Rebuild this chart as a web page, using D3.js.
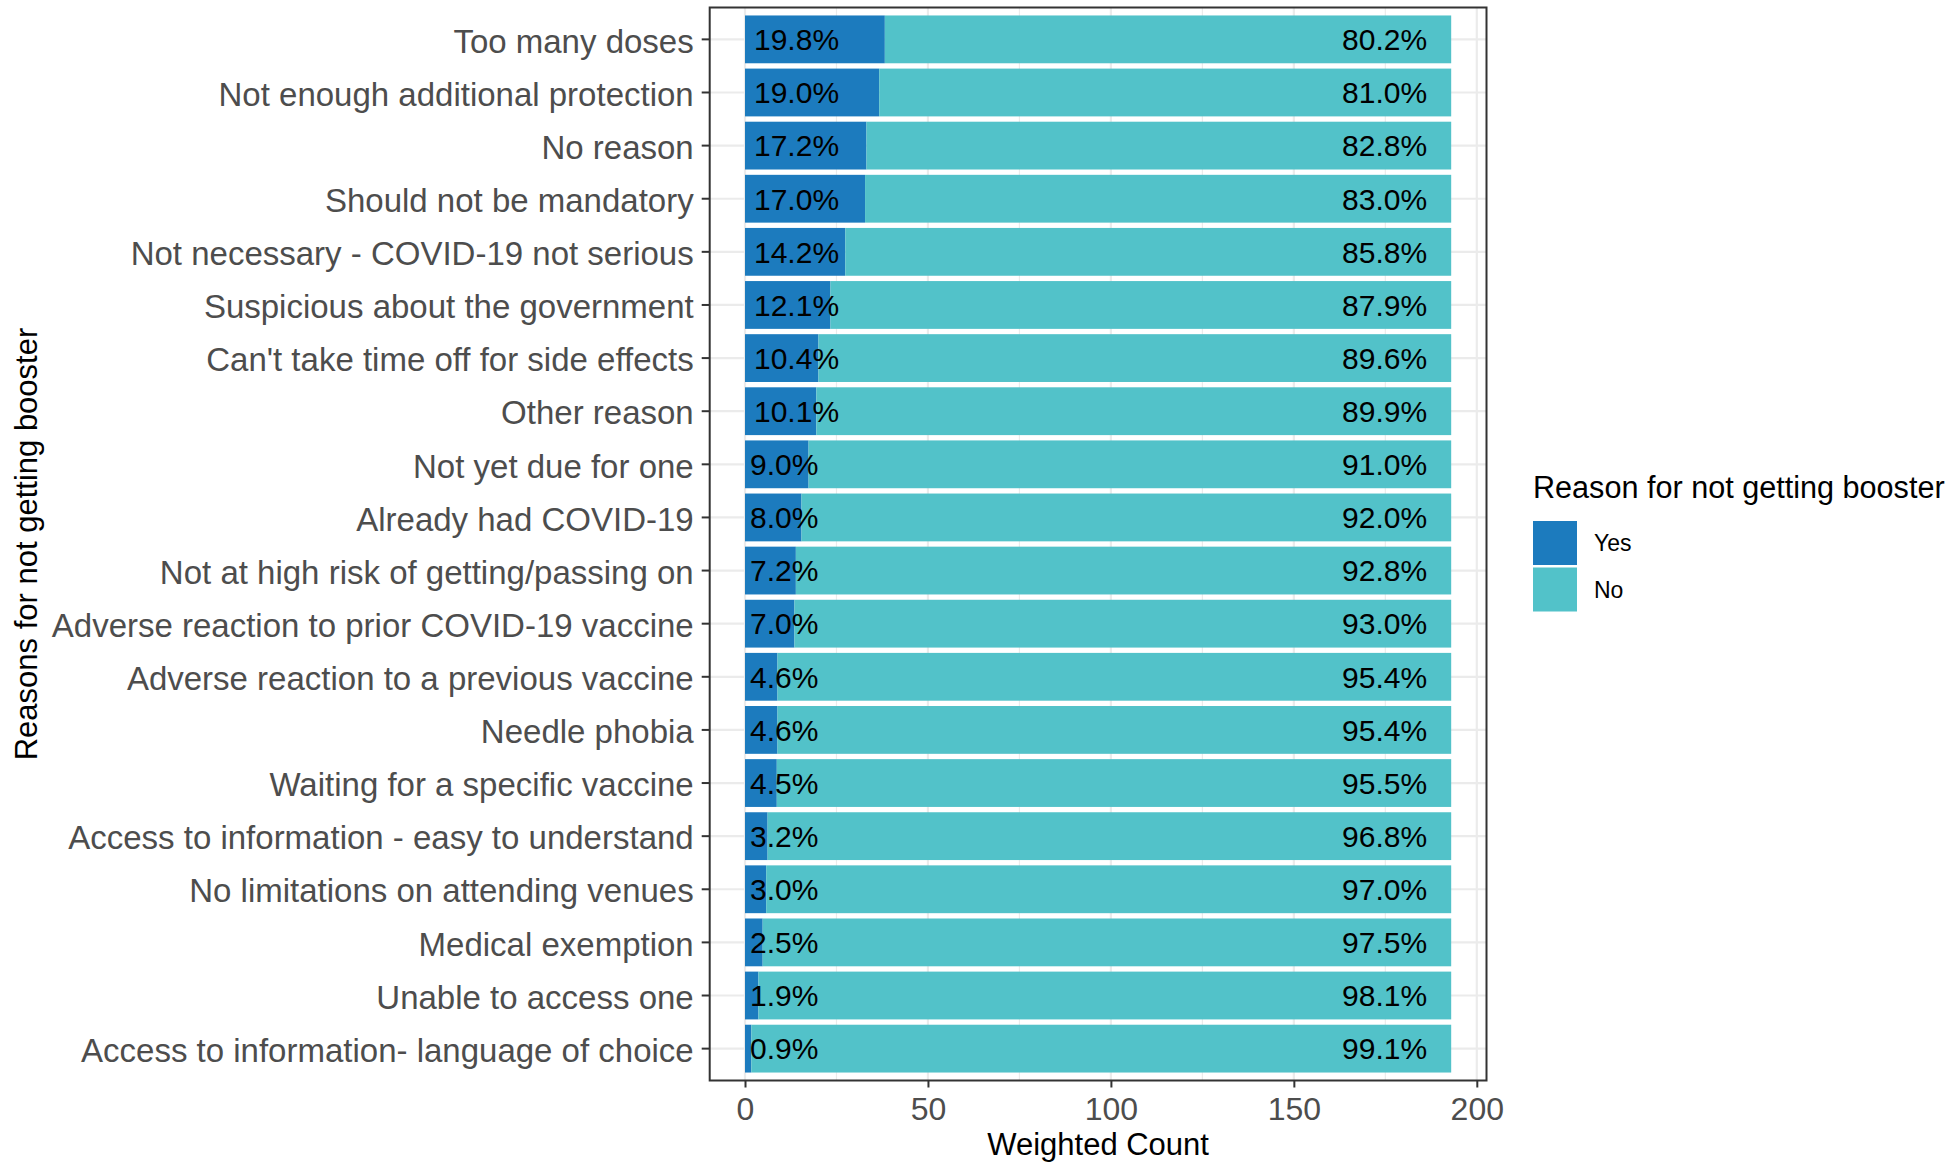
<!DOCTYPE html>
<html>
<head>
<meta charset="utf-8">
<script src="https://cdn.jsdelivr.net/npm/d3@7"></script>
<style>
  html, body { margin: 0; padding: 0; background: #ffffff; }
  svg { display: block; font-family: "Liberation Sans", Arial, sans-serif; }
</style>
</head>
<body>
<svg id="chart" width="1959" height="1162"></svg>
<script>
// ---- data ----
const categories = [
  "Too many doses",
  "Not enough additional protection",
  "No reason",
  "Should not be mandatory",
  "Not necessary - COVID-19 not serious",
  "Suspicious about the government",
  "Can't take time off for side effects",
  "Other reason",
  "Not yet due for one",
  "Already had COVID-19",
  "Not at high risk of getting/passing on",
  "Adverse reaction to prior COVID-19 vaccine",
  "Adverse reaction to a previous vaccine",
  "Needle phobia",
  "Waiting for a specific vaccine",
  "Access to information - easy to understand",
  "No limitations on attending venues",
  "Medical exemption",
  "Unable to access one",
  "Access to information- language of choice"
];
const yesPct = [19.8, 19.0, 17.2, 17.0, 14.2, 12.1, 10.4, 10.1, 9.0, 8.0, 7.2, 7.0, 4.6, 4.6, 4.5, 3.2, 3.0, 2.5, 1.9, 0.9];
const noPct  = [80.2, 81.0, 82.8, 83.0, 85.8, 87.9, 89.6, 89.9, 91.0, 92.0, 92.8, 93.0, 95.4, 95.4, 95.5, 96.8, 97.0, 97.5, 98.1, 99.1];
const weightedTotal = 193;
const xTicks = [0, 50, 100, 150, 200];
const xMinorTicks = [25, 75, 125, 175];
const seriesNames = ["Yes", "No"];
const seriesColors = ["#1C7BBE", "#52C2C9"];

// ---- layout ----
const svg = d3.select("#chart");
const panel = { left: 709.7, right: 1486.5, top: 7.5, bottom: 1080.5 };

const rows = categories.map((c, i) => ({
  cat: c,
  yes: yesPct[i] / 100 * weightedTotal,
  no: noPct[i] / 100 * weightedTotal,
  yesLab: yesPct[i].toFixed(1) + "%",
  noLab: noPct[i].toFixed(1) + "%"
}));

const expand = 0.05 * weightedTotal;
const x = d3.scaleLinear()
  .domain([0 - expand, weightedTotal + expand])
  .range([panel.left, panel.right]);

const y = d3.scaleBand()
  .domain(categories)
  .range([panel.top, panel.bottom])
  .paddingInner(0.1)
  .paddingOuter(0.15);

const color = d3.scaleOrdinal().domain(seriesNames).range(seriesColors);

// panel background
svg.append("rect")
  .attr("x", panel.left).attr("y", panel.top)
  .attr("width", panel.right - panel.left).attr("height", panel.bottom - panel.top)
  .attr("fill", "#ffffff");

// grid
const grid = svg.append("g");
grid.selectAll("line.minor").data(xMinorTicks).enter().append("line")
  .attr("x1", d => x(d)).attr("x2", d => x(d))
  .attr("y1", panel.top).attr("y2", panel.bottom)
  .attr("stroke", "#EBEBEB").attr("stroke-width", 1.2);
grid.selectAll("line.majorx").data(xTicks).enter().append("line")
  .attr("x1", d => x(d)).attr("x2", d => x(d))
  .attr("y1", panel.top).attr("y2", panel.bottom)
  .attr("stroke", "#EBEBEB").attr("stroke-width", 2.2);
grid.selectAll("line.majory").data(categories).enter().append("line")
  .attr("x1", panel.left).attr("x2", panel.right)
  .attr("y1", d => y(d) + y.bandwidth() / 2).attr("y2", d => y(d) + y.bandwidth() / 2)
  .attr("stroke", "#EBEBEB").attr("stroke-width", 2.2);

// stacked bars
const stack = d3.stack().keys(["yes", "no"]);
const stacked = stack(rows);
const bars = svg.append("g");
stacked.forEach((layer, li) => {
  bars.selectAll(null).data(layer).enter().append("rect")
    .attr("x", d => x(d[0]))
    .attr("width", d => x(d[1]) - x(d[0]))
    .attr("y", d => y(d.data.cat))
    .attr("height", y.bandwidth())
    .attr("fill", color(seriesNames[li]));
});

// bar labels
const labels = svg.append("g")
  .attr("font-size", 30).attr("fill", "#000000");
labels.selectAll("text.yes").data(rows).enter().append("text")
  .attr("x", x(0))
  .attr("y", d => y(d.cat) + y.bandwidth() / 2)
  .attr("dy", "0.36em")
  .text(d => d.yesLab)
  .each(function() {
    const w = this.getComputedTextLength();
    d3.select(this).attr("x", x(0) - 11 + 0.235 * w);
  });
labels.selectAll("text.no").data(rows).enter().append("text")
  .attr("x", d => x(d.yes + d.no) - 24)
  .attr("y", d => y(d.cat) + y.bandwidth() / 2)
  .attr("dy", "0.36em")
  .attr("text-anchor", "end")
  .text(d => d.noLab);

// panel border
svg.append("rect")
  .attr("x", panel.left).attr("y", panel.top)
  .attr("width", panel.right - panel.left).attr("height", panel.bottom - panel.top)
  .attr("fill", "none").attr("stroke", "#333333").attr("stroke-width", 2);

// x axis
const xAxis = d3.axisBottom(x).tickValues(xTicks).tickSize(7).tickPadding(6);
const gx = svg.append("g").attr("transform", `translate(0,${panel.bottom})`).call(xAxis);
gx.select(".domain").remove();
gx.selectAll(".tick line").attr("stroke", "#333333").attr("stroke-width", 2);
gx.selectAll(".tick text")
  .attr("font-family", "Liberation Sans, Arial, sans-serif")
  .attr("font-size", 32).attr("fill", "#4D4D4D")
  .attr("dy", null).attr("y", 39.5);

// y axis
const yAxis = d3.axisLeft(y).tickSize(8).tickPadding(8);
const gy = svg.append("g").attr("transform", `translate(${panel.left},0)`).call(yAxis);
gy.select(".domain").remove();
gy.selectAll(".tick line").attr("stroke", "#333333").attr("stroke-width", 2);
gy.selectAll(".tick text")
  .attr("font-family", "Liberation Sans, Arial, sans-serif")
  .attr("font-size", 33).attr("fill", "#4D4D4D")
  .attr("dy", "0.4em");

// axis titles
svg.append("text")
  .attr("x", (panel.left + panel.right) / 2).attr("y", 1155)
  .attr("text-anchor", "middle").attr("font-size", 31).attr("fill", "#000")
  .text("Weighted Count");
svg.append("text")
  .attr("transform", `translate(37,${(panel.top + panel.bottom) / 2}) rotate(-90)`)
  .attr("text-anchor", "middle").attr("font-size", 31).attr("fill", "#000")
  .text("Reasons for not getting booster");

// legend
const legend = svg.append("g").attr("transform", "translate(1533,0)");
legend.append("text")
  .attr("x", 0).attr("y", 498)
  .attr("font-size", 30.6).attr("fill", "#000")
  .text("Reason for not getting booster");
const keys = legend.selectAll("g.key").data(seriesNames).enter().append("g")
  .attr("transform", (d, i) => `translate(0,${521 + i * 46.5})`);
keys.append("rect")
  .attr("x", 0).attr("y", 0).attr("width", 44).attr("height", 44)
  .attr("fill", d => color(d));
keys.append("text")
  .attr("x", 61).attr("y", 22).attr("dy", "0.36em")
  .attr("font-size", 23).attr("fill", "#000")
  .text(d => d);
</script>
</body>
</html>
